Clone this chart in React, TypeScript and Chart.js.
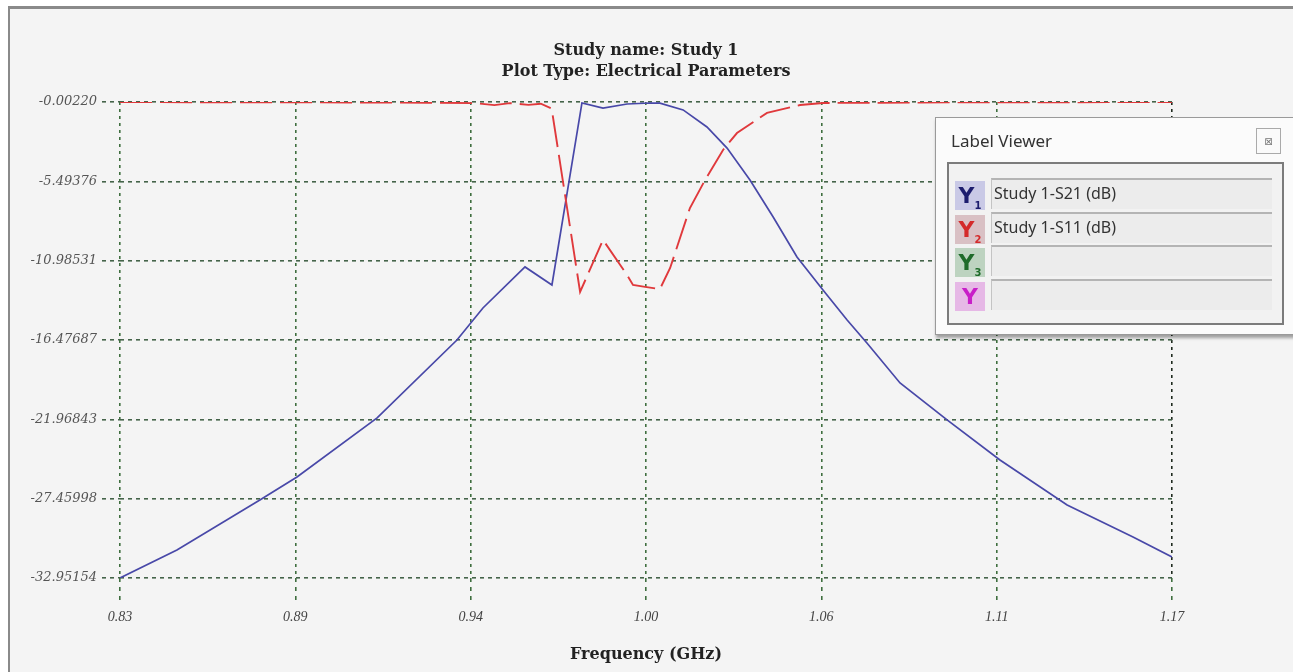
import React, { useEffect, useRef } from 'react';
import { Chart, registerables } from 'chart.js';

Chart.register(...registerables);

// ---- Data ----
const s21Freq = [0.83, 0.8484, 0.8752, 0.8872, 0.9131, 0.9389, 0.9473, 0.9609, 0.9696, 0.9793, 0.9861, 0.9939, 1.0013, 1.0045, 1.012, 1.0197, 1.0262, 1.0336, 1.0411, 1.0488, 1.0572, 1.065, 1.0714, 1.0821, 1.0973, 1.1144, 1.1361, 1.1574, 1.17];
const s21Values = [-32.95, -31.01, -27.55, -25.96, -21.87, -16.48, -14.26, -11.42, -12.67, -0.07, -0.42, -0.14, -0.07, -0.08, -0.55, -1.73, -3.19, -5.4, -7.96, -10.73, -13.02, -15.09, -16.68, -19.45, -22.01, -24.78, -27.9, -30.11, -31.5];

const s11Freq = [0.83, 0.88, 0.93, 0.945, 0.951, 0.956, 0.962, 0.966, 0.9695, 0.9787, 0.9861, 0.9939, 0.9958, 0.9997, 1.0045, 1.0078, 1.0142, 1.0191, 1.0249, 1.0294, 1.0391, 1.0498, 1.0572, 1.1, 1.17];
const s11Values = [-0.01, -0.02, -0.05, -0.08, -0.22, -0.08, -0.2, -0.12, -0.45, -13.15, -9.55, -11.98, -12.67, -12.8, -12.95, -11.49, -7.34, -5.4, -3.32, -2.15, -0.76, -0.21, -0.07, -0.02, -0.01];

const xTickValues = [0.83, 0.88667, 0.94333, 1.0, 1.05667, 1.11333, 1.17];
const xTickLabels = ['0.83', '0.89', '0.94', '1.00', '1.06', '1.11', '1.17'];
const yTickValues = [-0.0022, -5.49376, -10.98531, -16.47687, -21.96843, -27.45998, -32.95154];
const yTickLabels = ['-0.00220', '-5.49376', '-10.98531', '-16.47687', '-21.96843', '-27.45998', '-32.95154'];

const titleLines = ['Study name: Study 1', 'Plot Type: Electrical Parameters'];
const xAxisTitle = 'Frequency (GHz)';
const legendTitle = 'Label Viewer';
const legendEntries = ['Study 1-S21 (dB)', 'Study 1-S11 (dB)', '', ''];
const legendSubs = ['1', '2', '3', ''];
const legendIconColors = ['#1d1d6e', '#d42a2a', '#1f6b2a', '#c81ec8'];
const legendIconBgs = ['#c9c9e6', '#d9c0c4', '#bdd3c0', '#e6b8e6'];

const textPlugin = {
  id: 'textPlugin',
  afterDraw(chart: any) {
    const { ctx, chartArea } = chart;
    const cx = (chartArea.left + chartArea.right) / 2;
    ctx.save();
    ctx.fillStyle = '#222';
    ctx.textAlign = 'center';
    ctx.textBaseline = 'middle';
    ctx.font = 'bold 16px "DejaVu Serif"';
    ctx.fillText(titleLines[0], cx, 51);
    ctx.fillText(titleLines[1], cx, 72);
    ctx.fillText(xAxisTitle, cx, 655);
    ctx.restore();
  },
};

export default function App() {
  const canvasRef = useRef<HTMLCanvasElement | null>(null);

  useEffect(() => {
    const canvas = canvasRef.current;
    if (!canvas) return;
    const gridColor = (c: any) => (c.index === 6 ? '#1f2a1f' : '#3f6e3f');
    const chart = new Chart(canvas, {
      type: 'line',
      data: {
        datasets: [
          {
            label: 'Study 1-S11 (dB)',
            data: s11Freq.map((f, i) => ({ x: f, y: s11Values[i] })),
            borderColor: '#e0393c',
            borderWidth: 1.9,
            borderDash: [32, 8],
            pointRadius: 0,
            tension: 0,
            fill: false,
          },
          {
            label: 'Study 1-S21 (dB)',
            data: s21Freq.map((f, i) => ({ x: f, y: s21Values[i] })),
            borderColor: '#4848a8',
            borderWidth: 1.7,
            pointRadius: 0,
            tension: 0,
            fill: false,
          },
        ],
      },
      options: {
        animation: false,
        responsive: false,
        devicePixelRatio: 1,
        layout: { padding: { left: 10, right: 121, top: 102, bottom: 0 } },
        plugins: {
          legend: { display: false },
          title: { display: false },
          tooltip: { enabled: false },
        },
        scales: {
          x: {
            type: 'linear',
            min: 0.83,
            max: 1.17,
            afterBuildTicks: (s: any) => {
              s.ticks = xTickValues.map((v) => ({ value: v }));
            },
            afterFit: (s: any) => {
              s.height = 94;
            },
            ticks: {
              autoSkip: false,
              maxRotation: 0,
              padding: 7,
              color: '#444',
              font: { family: '"Liberation Serif"', style: 'italic', size: 14 },
              callback: (_v: any, i: number) => xTickLabels[i],
            },
            grid: {
              color: gridColor,
              lineWidth: 1.6,
              tickLength: 24,
              tickColor: '#3f6e3f',
              tickBorderDash: [4, 5],
            },
            border: { display: false, dash: [3, 4] },
          },
          y: {
            type: 'linear',
            min: -32.95154,
            max: -0.0022,
            afterBuildTicks: (s: any) => {
              s.ticks = yTickValues.map((v) => ({ value: v }));
            },
            afterFit: (s: any) => {
              s.width = 110;
            },
            ticks: {
              autoSkip: false,
              padding: 5,
              color: '#555',
              font: { family: '"DejaVu Serif"', style: 'italic', size: 13 },
              callback: (_v: any, i: number) => yTickLabels[i],
            },
            grid: {
              color: '#45644a',
              lineWidth: 1.6,
              tickLength: 18,
              tickColor: '#45644a',
              tickBorderDash: [4, 4],
            },
            border: { display: false, dash: [4, 4] },
          },
        },
      },
      plugins: [textPlugin],
    } as any);
    return () => chart.destroy();
  }, []);

  const rowTops = [177, 210.5, 244, 277.5];

  return (
    <div style={{ position: 'fixed', left: 0, top: 0, width: 1293, height: 672, overflow: 'hidden', background: '#ffffff' }}>
      <div
        style={{
          position: 'absolute',
          left: 8,
          top: 6,
          width: 1300,
          height: 700,
          borderTop: '3px solid #8a8a8a',
          borderLeft: '2px solid #8a8a8a',
          background: '#f4f4f4',
        }}
      />
      <canvas ref={canvasRef} width={1293} height={672} style={{ position: 'absolute', left: 0, top: 0 }} />
      {/* Label Viewer panel */}
      <div
        style={{
          position: 'absolute',
          left: 935,
          top: 117,
          width: 380,
          height: 216,
          background: '#fbfbfb',
          border: '1px solid #9a9a9a',
          boxShadow: '1px 3px 3px rgba(0,0,0,0.35)',
          fontFamily: '"Noto Sans", sans-serif',
        }}
      >
        <div style={{ position: 'absolute', left: 15, top: 11, fontSize: 17, color: '#333', lineHeight: '24px' }}>{legendTitle}</div>
        <div
          style={{
            position: 'absolute',
            left: 320,
            top: 10,
            width: 25,
            height: 26,
            border: '1px solid #aaa',
            background: '#fafafa',
            boxSizing: 'border-box',
            fontFamily: '"DejaVu Sans"',
            fontSize: 10,
            color: '#777',
            display: 'flex',
            alignItems: 'center',
            justifyContent: 'center',
          }}
        >
          ⊠
        </div>
        <div
          style={{
            position: 'absolute',
            left: 11,
            top: 44,
            width: 337,
            height: 163,
            border: '2px solid #7c7c7c',
            background: '#f2f2f2',
            boxSizing: 'border-box',
          }}
        />
        {legendEntries.map((txt, i) => (
          <React.Fragment key={i}>
            <div
              style={{
                position: 'absolute',
                left: 19,
                top: rowTops[i] - 117 + 3,
                width: 30,
                height: 29,
                background: legendIconBgs[i],
                color: legendIconColors[i],
                fontFamily: '"DejaVu Sans"',
                fontWeight: 'bold',
                fontSize: 22,
                lineHeight: '29px',
                textAlign: 'center',
              }}
            >
              Y<span style={{ fontSize: 10, verticalAlign: -6 }}>{legendSubs[i]}</span>
            </div>
            <div
              style={{
                position: 'absolute',
                left: 55,
                top: rowTops[i] - 117,
                width: 281,
                height: 31,
                background: '#ececec',
                borderTop: '2px solid #b4b4b4',
                borderLeft: '1px solid #c4c4c4',
                boxSizing: 'border-box',
                fontSize: 16,
                color: '#333',
                lineHeight: '27px',
                paddingLeft: 2,
                whiteSpace: 'nowrap',
              }}
            >
              {txt}
            </div>
          </React.Fragment>
        ))}
      </div>
    </div>
  );
}
